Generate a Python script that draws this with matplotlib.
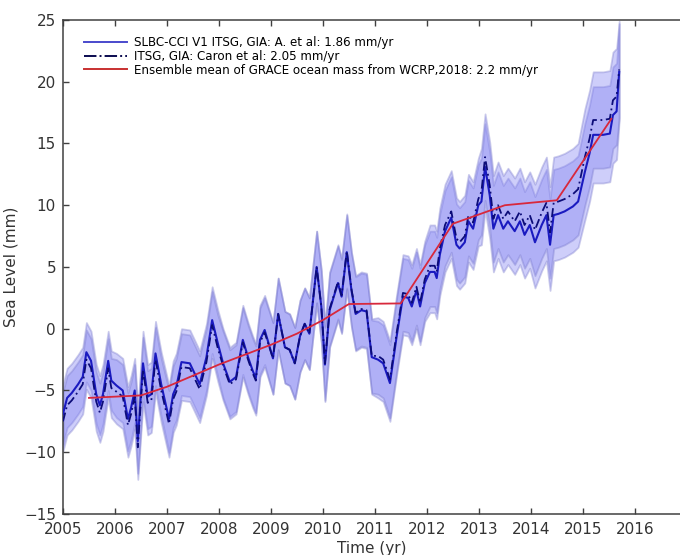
import numpy as np
import matplotlib
matplotlib.use("Agg")
import matplotlib.pyplot as plt

# time axis of the monthly sea-level series (decimal years)
t = [2005.00, 2005.08, 2005.17, 2005.29, 2005.38, 2005.45, 2005.54, 2005.64, 2005.71, 2005.77, 2005.87, 2005.93,
     2006.03, 2006.15, 2006.25, 2006.31, 2006.38, 2006.44, 2006.54, 2006.63, 2006.70, 2006.78, 2006.89,
     2007.04, 2007.12, 2007.18, 2007.28, 2007.44, 2007.53, 2007.63, 2007.76, 2007.87, 2007.98,
     2008.08, 2008.21, 2008.33, 2008.46, 2008.56, 2008.65, 2008.71, 2008.79, 2008.88,
     2009.04, 2009.14, 2009.27, 2009.36, 2009.46, 2009.56, 2009.65, 2009.74, 2009.88, 2009.97,
     2010.04, 2010.13, 2010.29, 2010.36, 2010.46, 2010.55, 2010.63, 2010.74, 2010.84, 2010.94,
     2011.06, 2011.16, 2011.29, 2011.42, 2011.54, 2011.64, 2011.71, 2011.80, 2011.87, 2011.96,
     2012.06, 2012.15, 2012.19, 2012.25, 2012.35, 2012.47, 2012.57, 2012.63, 2012.73, 2012.80, 2012.89, 2012.99,
     2013.05, 2013.12, 2013.21, 2013.28, 2013.37, 2013.47, 2013.56, 2013.69, 2013.79, 2013.88, 2013.98,
     2014.08, 2014.21, 2014.30, 2014.37, 2014.44, 2014.53, 2014.65, 2014.81, 2014.91,
     2015.04, 2015.13, 2015.20, 2015.39, 2015.52, 2015.58, 2015.65, 2015.70]

# SLBC-CCI V1 ITSG, GIA: A. et al
slbc = [-6.9, -5.6, -5.2, -4.5, -3.9, -1.9, -2.6, -5.3, -6.2, -5.3, -2.6, -4.2,
        -4.6, -5.0, -7.3, -6.4, -5.0, -9.1, -2.8, -5.5, -5.3, -2.0, -4.5,
        -7.3, -5.3, -4.7, -2.7, -2.8, -3.6, -4.5, -2.3, 0.7, -1.2,
        -2.8, -4.3, -3.9, -0.9, -2.3, -3.4, -4.0, -0.9, -0.1,
        -2.4, 1.2, -1.5, -1.7, -2.8, -0.6, 0.4, -0.4, 5.0, 1.8,
        -2.9, 1.5, 3.7, 2.6, 6.2, 3.1, 1.2, 1.5, 1.4, -2.3,
        -2.5, -2.8, -4.4, -0.6, 2.6, 2.5, 1.8, 3.1, 1.8, 3.7,
        4.6, 4.6, 4.1, 6.0, 7.9, 9.0, 6.8, 6.5, 7.0, 8.7, 8.1, 10.0,
        10.3, 13.1, 10.8, 8.1, 9.2, 8.1, 8.7, 7.9, 8.7, 7.6, 8.4,
        7.0, 8.4, 9.2, 6.8, 9.2, 9.3, 9.5, 9.9, 10.3,
        12.7, 14.2, 15.7, 15.7, 15.8, 17.3, 17.6, 20.8]

# ITSG, GIA: Caron et al
caron = [-7.5, -6.2, -5.8, -5.1, -4.5, -2.5, -3.2, -5.9, -6.8, -5.9, -3.2, -4.8,
         -5.1, -5.5, -7.8, -6.9, -5.5, -9.6, -3.3, -6.0, -5.8, -2.5, -5.0,
         -7.7, -5.7, -5.1, -3.1, -3.2, -4.0, -4.9, -2.7, 0.3, -1.6,
         -3.0, -4.5, -4.1, -1.1, -2.5, -3.6, -4.2, -1.1, -0.3,
         -2.4, 1.2, -1.5, -1.7, -2.8, -0.6, 0.4, -0.4, 5.0, 1.8,
         -2.8, 1.6, 3.8, 2.7, 6.3, 3.2, 1.3, 1.6, 1.5, -2.2,
         -2.2, -2.5, -4.1, -0.3, 2.9, 2.8, 2.1, 3.4, 2.1, 4.0,
         5.1, 5.1, 4.6, 6.5, 8.4, 9.5, 7.3, 7.0, 7.5, 9.2, 8.6, 10.5,
         11.1, 13.9, 11.6, 8.9, 10.0, 8.9, 9.5, 8.7, 9.5, 8.4, 9.2,
         8.0, 9.4, 10.2, 7.8, 10.2, 10.3, 10.5, 10.9, 11.3,
         13.9, 15.4, 16.9, 16.9, 17.0, 18.5, 18.8, 21.0]

# uncertainty half-width (mm)
unc = ([2.4] * 12 + [2.6] * 11 + [2.7] * 10 + [2.8] * 9 + [2.9] * 10 + [3.0] * 10
       + [3.1] * 10 + [3.3] * 12 + [3.5] * 11 + [3.7] * 9 + [3.9] * 8)

# ensemble mean of GRACE ocean mass (WCRP 2018)
red_t = [2005.5, 2006.5, 2007.0, 2007.5, 2008.0, 2008.5, 2009.0, 2009.5, 2010.0, 2010.5,
         2011.5, 2012.5, 2013.5, 2014.5, 2015.55]
red_v = [-5.6, -5.4, -4.7, -3.8, -2.9, -2.1, -1.3, -0.4, 0.7, 2.0,
         2.05, 8.5, 10.0, 10.4, 17.0]

labels = ['SLBC-CCI V1 ITSG, GIA: A. et al: 1.86 mm/yr',
          'ITSG, GIA: Caron et al: 2.05 mm/yr',
          'Ensemble mean of GRACE ocean mass from WCRP,2018: 2.2 mm/yr']

t = np.array(t)
slbc = np.array(slbc)
caron = np.array(caron)
unc = np.array(unc)

fig = plt.figure(figsize=(6.8, 5.55), dpi=100)
ax = fig.add_axes([0.0926, 0.0739, 0.9074, 0.8901])

band_face = (0.50, 0.50, 0.95)
band_edge = (0.48, 0.48, 0.80)
ax.fill_between(t, slbc - unc, slbc + unc, facecolor=band_face, alpha=0.38,
                edgecolor=band_edge, linewidth=1.3, zorder=1)
ax.fill_between(t, caron - unc, caron + unc, facecolor=band_face, alpha=0.38,
                edgecolor=band_edge, linewidth=1.3, zorder=1)

ax.plot(t, slbc, color='#1a1ac0', lw=1.5, zorder=3)
ax.plot(t, caron, color='#0c0c78', lw=1.3, ls=(0, (5, 2, 1, 2)), zorder=3)
ax.plot(red_t, red_v, color='#d8283c', lw=1.3, zorder=4)

h1 = plt.Line2D([], [], color='#4a4acc', lw=1.4)
h2 = plt.Line2D([], [], color='#0a0a50', lw=1.4, ls='-.')
h3 = plt.Line2D([], [], color='#c83030', lw=1.4)
ax.legend([h1, h2, h3], labels, loc='upper left', bbox_to_anchor=(0.02, 0.985),
          frameon=False, fontsize=8.6, handlelength=3.6, handletextpad=0.6,
          labelspacing=0.08, borderaxespad=0.3)

ax.set_xlim(2005, 2016.87)
ax.set_ylim(-15, 25)
ax.set_xticks(range(2005, 2017))
ax.set_yticks(range(-15, 26, 5))
ax.tick_params(direction='in', length=4, width=1, colors='#404040',
               labelcolor='#333333', labelsize=11, top=True, right=False)
ax.tick_params(axis='x', labeltop=False, pad=6)
ax.tick_params(axis='y', pad=5)
for s in ['left', 'bottom', 'top']:
    ax.spines[s].set_color('#404040')
    ax.spines[s].set_linewidth(1.1)
ax.spines['right'].set_visible(False)

ax.set_xlabel('Time (yr)', fontsize=11, color='#333333')
ax.xaxis.set_label_coords(0.5, -0.054)
ax.set_ylabel('Sea Level (mm)', fontsize=11, color='#333333', labelpad=4)

fig.savefig('out.png', dpi=100)
